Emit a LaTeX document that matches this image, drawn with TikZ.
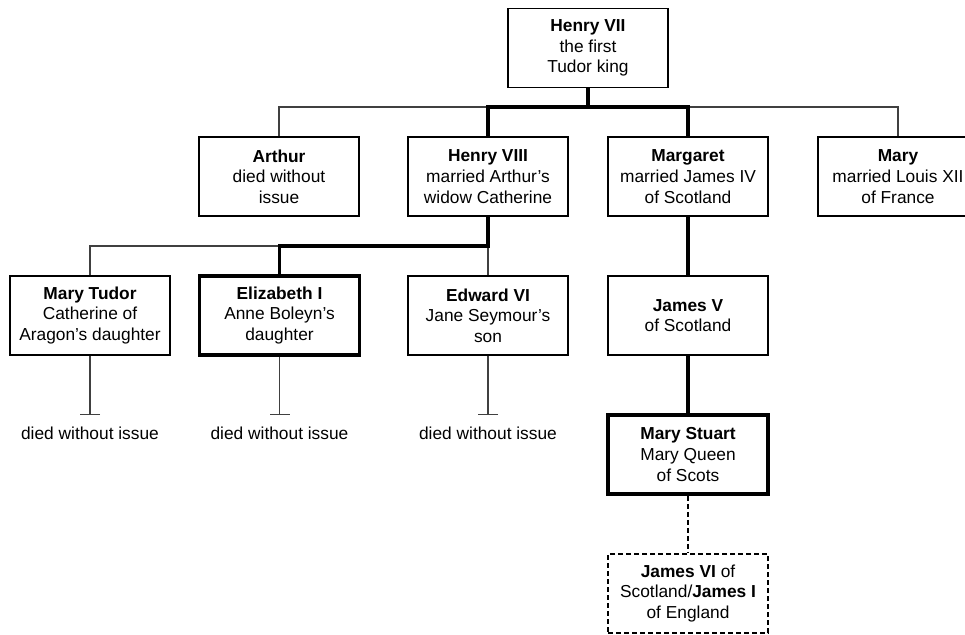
\documentclass[tikz,border=0pt]{standalone}
\usepackage{fontspec}
\setmainfont{Liberation Sans}
\usetikzlibrary{arrows.meta}
\begin{document}
\begin{tikzpicture}[x=0.75pt,y=-0.75pt,
  person/.style={draw=black, line width=0.8pt, minimum width=120pt, minimum height=59.25pt,
    align=center, inner sep=0pt, font=\fontsize{13}{15.5}\selectfont},
  heir/.style={person, line width=2.8pt},
  uncertain/.style={person, line width=0.8pt, dashed, dash pattern=on 3.5pt off 2.5pt},
  thinline/.style={draw=black!75, line width=0.8pt},
  thickline/.style={draw=black, line width=2.8pt},
  dottedline/.style={draw=black, line width=0.8pt, dash pattern=on 3.5pt off 2.5pt},
  endbar/.style={thinline, -{Bar[width=15pt,line width=0.8pt]}},
  note/.style={font=\fontsize{13}{15.5}\selectfont, inner sep=0pt}]
\useasboundingbox (0,0) rectangle (965,635);
\begin{scope}
\clip (0,0) rectangle (965,635);
% level 1
\node[person] (h7) at (588,48) {\textbf{Henry VII}\\the first\\Tudor king};
% level 2
\node[person] (arthur) at (279,176.5) {\textbf{Arthur}\\died without\\issue};
\node[person] (h8) at (488,176.5) {\textbf{Henry VIII}\\married Arthur’s\\widow Catherine};
\node[person] (margaret) at (688,176.5) {\textbf{Margaret}\\married James IV\\of Scotland};
\node[person] (mary) at (898,176.5) {\textbf{Mary}\\married Louis XII\\of France};
% level 3
\node[person] (marytudor) at (90,315.5) {\textbf{Mary Tudor}\\Catherine of\\Aragon’s daughter};
\node[heir] (eliz) at (279.5,315.5) {\textbf{Elizabeth I}\\Anne Boleyn’s\\daughter};
\node[person] (edward) at (488,315.5) {\textbf{Edward VI}\\Jane Seymour’s\\son};
\node[person] (james5) at (688,315.5) {\textbf{James V}\\of Scotland};
% level 4
\node[heir] (marystuart) at (688,454.5) {\textbf{Mary Stuart}\\Mary Queen\\of Scots};
% level 5
\node[uncertain] (james6) at (688,593.5) {\textbf{James VI} of\\Scotland/\textbf{James I}\\of England};

% junctions
\coordinate (j1) at (588,107);
\coordinate (j2) at (488,246);
\coordinate (d1) at (90,415);
\coordinate (d2) at (279.5,415);
\coordinate (d3) at (488,415);

% level 1 -> 2
\draw[thinline] (arthur.north) -- (arthur.north|-j1) -- (mary.north|-j1) -- (mary.north);
\draw[thickline] (h8.north) -- (h8.north|-j1) -- (margaret.north|-j1) -- (margaret.north);
\draw[thickline] (h7.south) -- (j1);
% level 2 -> 3
\draw[thinline] (marytudor.north) -- (marytudor.north|-j2) -- (j2) -- (edward.north);
\draw[thickline] (h8.south) -- (j2) -- (eliz.north|-j2) -- (eliz.north);
\draw[thickline] (margaret.south) -- (james5.north);
\draw[thickline] (james5.south) -- (marystuart.north);
\draw[dottedline] (marystuart.south) -- (james6.north);
% ends
\draw[endbar] (marytudor.south) -- (d1);
\draw[endbar] (eliz.south) -- (d2);
\draw[endbar] (edward.south) -- (d3);
\node[note] (n1) at (90,433) {died without issue};
\node[note] (n2) at (279.5,433) {died without issue};
\node[note] (n3) at (488,433) {died without issue};
\end{scope}
\end{tikzpicture}
\end{document}
